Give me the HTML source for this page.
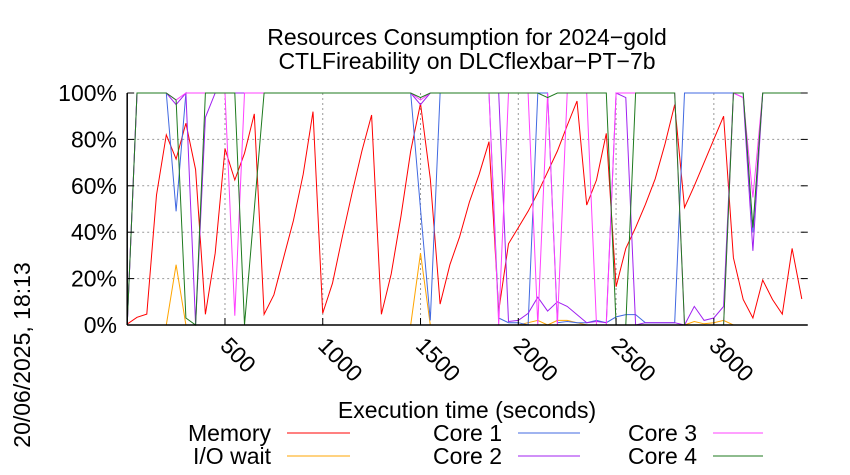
<!DOCTYPE html>
<html><head><meta charset="utf-8"><style>
html,body{margin:0;padding:0;background:#fff;}
svg{display:block;font-family:"Liberation Sans",sans-serif;}
</style></head><body>
<svg id="chart" width="850" height="475" viewBox="0 0 850 475" xmlns="http://www.w3.org/2000/svg">
<text x="467" y="45" font-size="23" text-anchor="middle">Resources Consumption for 2024−gold</text>
<text x="467" y="69" font-size="23" text-anchor="middle">CTLFireability on DLCflexbar−PT−7b</text>
<text transform="translate(30,355) rotate(-90)" font-size="23" text-anchor="middle">20/06/2025, 18:13</text>
<text x="467" y="418" font-size="23" text-anchor="middle">Execution time (seconds)</text>
<g id="grid"></g>
<g id="series"></g>
<g id="axes"></g>
<g id="legend"></g>
</svg>
<script>
const times = [0,50,100,150,200,250,300,350,400,450,500,550,600,650,700,750,800,850,900,950,1000,1050,1100,1150,1200,1250,1300,1350,1400,1450,1500,1550,1600,1650,1700,1750,1800,1850,1900,1950,2000,2050,2100,2150,2200,2250,2300,2350,2400,2450,2500,2550,2600,2650,2700,2750,2800,2850,2900,2950,3000,3050,3100,3150,3200,3250,3300,3350,3400,3450];
const memory = [0.4,3.3,4.7,56,82,71.5,87,67,4.6,31,76,62.5,74,91,4.6,13,29,45,65,92,5,18,38,57,75,90.5,4.6,22,47,75,95.5,63,9,26,38,53,65,79,6,35,42,49,57,66,75,86,96.5,51.7,62.5,82.6,16.5,33,42,52,63,78,95,50.6,60,70,80,90,29,11,3,19.4,11,4.7,33,11.2];
const ioWait = [0,0,0,0,0,26,0,0,0,0,0,0,0,0,0,0,0,0,0,0,0,0,0,0,0,0,0,0,0,0,31,0,0,0,0,0,0,0,0,0,0,1,2,0,2,2,1,0,0,0,0,0,0,0,0,0,0,0,1.5,0.5,1,2,0,0,0,0,0,0,0,0];
const core1 = [0,100,100,100,100,49,100,100,100,100,100,100,100,100,100,100,100,100,100,100,100,100,100,100,100,100,100,100,100,100,50,2,100,100,100,100,100,100,3,1,1,0,100,100,1,1.5,1,1,2,1,3.5,4.5,4.5,1,1,1,1,100,100,100,100,100,100,100,40,100,100,100,100,100];
const core2 = [0,100,100,100,100,95,100,0,89.5,100,100,100,100,100,100,100,100,100,100,100,100,100,100,100,100,100,100,100,100,100,95,100,100,100,100,100,100,100,100,1.5,2,5,12,6,10,8,4.5,1,1.5,1,100,98,0,1,1,1,1,0,8,2,3,8,100,98,32,100,100,100,100,100];
const core3 = [0,100,100,100,100,97,100,100,100,100,100,4,100,100,100,100,100,100,100,100,100,100,100,100,100,100,100,100,100,100,97,100,100,100,100,100,100,100,0,100,100,100,0,100,0,100,100,100,0,0,100,100,100,100,100,100,100,0,0,0,0,0,100,98,55,100,100,100,100,100];
const core4 = [0,100,100,100,100,97,3,0,100,100,100,100,0,50,100,100,100,100,100,100,100,100,100,100,100,100,100,100,100,100,98,100,100,100,100,100,100,100,100,100,100,100,100,98,100,100,100,100,100,100,0,0,100,100,100,100,100,0,0,0,0,0,100,100,42,100,100,100,100,100];
const yTicks = [0,20,40,60,80,100];
const yTickLabels = ["0%","20%","40%","60%","80%","100%"];
const xTicks = [500,1000,1500,2000,2500,3000];
const xTickLabels = ["500","1000","1500","2000","2500","3000"];
const seriesNames = ["Memory","I/O wait","Core 1","Core 2","Core 3","Core 4"];

const NS="http://www.w3.org/2000/svg";
const X0=127.2, X1=807.7, Y0=325, Y1=93, XMAX=3480;
function xs(t){return X0+(t/XMAX)*(X1-X0);}
function ys(v){return Y0-(v/100)*(Y0-Y1);}
function mk(tag,attrs,parent){const e=document.createElementNS(NS,tag);for(const k in attrs)e.setAttribute(k,attrs[k]);parent.appendChild(e);return e;}
const grid=document.getElementById('grid'),axes=document.getElementById('axes'),series=document.getElementById('series'),legend=document.getElementById('legend');

yTicks.forEach((v,i)=>{
  const y=ys(v);
  if(v>0&&v<100){const g=mk('line',{x1:X0,x2:X1,y1:y,y2:y,stroke:'#999','stroke-dasharray':'2,3','stroke-width':1},grid);
  
  }
  const tk=mk('line',{x1:X0,x2:X0+7,y1:y,y2:y,stroke:'#000','stroke-width':1},axes);
  
  
  const tk2=mk('line',{x1:X1-7,x2:X1,y1:y,y2:y,stroke:'#000','stroke-width':1},axes);
  
  
  const t=mk('text',{x:117,y:y+8,'font-size':23,'text-anchor':'end'},axes);
  t.textContent=yTickLabels[i];
  
  
});
xTicks.forEach((v,i)=>{
  const x=xs(v);
  const g=mk('line',{x1:x,x2:x,y1:Y1,y2:Y0,stroke:'#999','stroke-dasharray':'2,3','stroke-width':1},grid);
  
  
  const tk=mk('line',{x1:x,x2:x,y1:Y0-7,y2:Y0,stroke:'#000','stroke-width':1},axes);
  
  
  const t=mk('text',{transform:`translate(${x-6},${Y0+22}) rotate(45)`,'font-size':23,'text-anchor':'start'},axes);
  t.textContent=xTickLabels[i];
  
  
});
const la=mk('line',{x1:X0,x2:X0,y1:Y1,y2:Y0,stroke:'#000','stroke-width':1.5},axes);


const ba=mk('line',{x1:X0,x2:X1,y1:Y0,y2:Y0,stroke:'#000','stroke-width':1.5},axes);



const allData=[memory,ioWait,core1,core2,core3,core4];
const colors=['#ff0000','#ffa500','#4169e1','#a020f0','#ff40ff','#1e7a1e'];
const names=['memory-line','io-wait-line','core1-line','core2-line','core3-line','core4-line'];
allData.forEach((d,k)=>{
  const pts=d.map((v,i)=>xs(times[i]).toFixed(1)+','+ys(v).toFixed(1)).join(' ');
  const p=mk('polyline',{points:pts,fill:'none',stroke:colors[k],'stroke-width':1},series);
  
  
});
const lpos=[[271,287,350,441],[271,287,350,464],[502,518,580,441],[502,518,580,464],[697,713,763,441],[697,713,763,464]];
[0,1,2,3,4,5].forEach(k=>{
  const [tx,lx1,lx2,ly]=lpos[k];
  const t=mk('text',{x:tx,y:ly,'font-size':23,'text-anchor':'end'},legend);
  t.textContent=seriesNames[k];
  
  
  const l=mk('line',{x1:lx1,x2:lx2,y1:ly-8,y2:ly-8,stroke:colors[k],'stroke-width':1},legend);
  
  
});
</script>
</body></html>
